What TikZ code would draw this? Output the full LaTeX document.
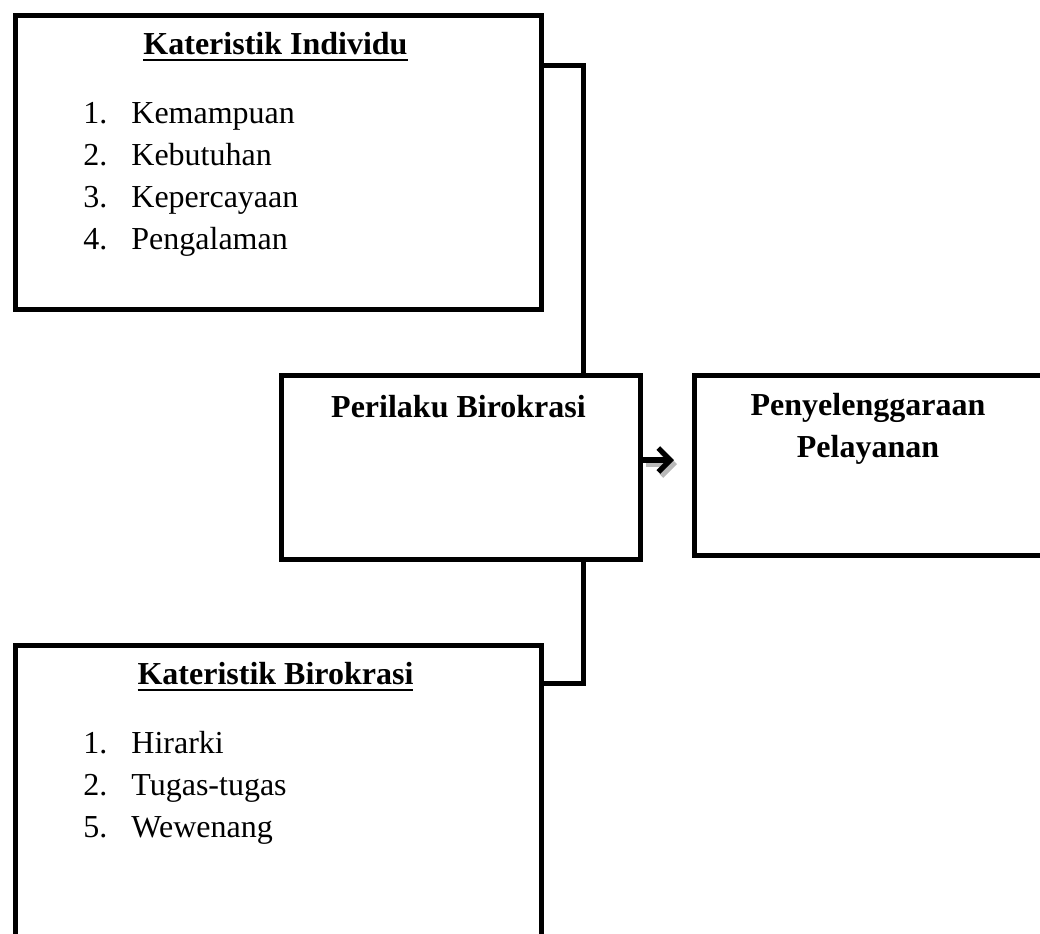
\documentclass[tikz,border=0pt]{standalone}
\usepackage{fontspec}
\setmainfont{Liberation Serif}
\usetikzlibrary{arrows.meta,positioning}
\newlength\gbw
\newcommand\garisbawah[1]{\settowidth\gbw{#1}\rlap{\rule[-3.6pt]{\gbw}{1.2pt}}#1}

\begin{document}
\begin{tikzpicture}[x=0.5pt,y=0.5pt,
  kotak/.style={draw,rectangle,line width=2.5pt,anchor=north west,inner sep=0pt},
  garis/.style={line width=2.5pt},
  panah/.style={line width=2.6pt,-{Straight Barb[length=6pt,width=12pt]}},
  judul/.style={anchor=base,inner sep=0pt,font=\fontsize{16}{21}\selectfont\bfseries},
  isi/.style={anchor=base west,inner sep=0pt,font=\fontsize{16}{21}\selectfont}]
\useasboundingbox (0,0) rectangle (1040,-933);
\clip (0,0) rectangle (1040,-933);

\node (KI) at (12.5,-12.5)[kotak,minimum width=263pt,minimum height=147pt] {};
\node (PB) at (279,-373)[kotak,minimum width=179.5pt,minimum height=91.75pt] {};
\node (PP) at (692,-373)[kotak,minimum width=176pt,minimum height=89.75pt] {};
\node (KB) at (12.5,-642.5)[kotak,minimum width=263pt,minimum height=160pt] {};

\node (KIjudul) at (275.5,-54)[judul] {\garisbawah{Kateristik Individu}};
\foreach \no/\teks [count=\i] in {1./Kemampuan,2./Kebutuhan,3./Kepercayaan,4./Pengalaman}
  \node (KI\i) at (83,{-123.5-42*(\i-1)})[isi] {\makebox[24pt][l]{\no}\teks};

\node (KBjudul) at (275.5,-684)[judul] {\garisbawah{Kateristik Birokrasi}};
\foreach \no/\teks [count=\i] in {1./Hirarki,2./Tugas-tugas,5./Wewenang}
  \node (KB\i) at (83,{-753-42*(\i-1)})[isi] {\makebox[24pt][l]{\no}\teks};

\node (PBjudul) at (458.5,-417)[judul] {Perilaku Birokrasi};
\node (PPjudul) at (868,-415)[judul] {\setlength\tabcolsep{0pt}\begin{tabular}[t]{c}Penyelenggaraan\\Pelayanan\end{tabular}};

\coordinate (S1) at (583,-65.5);
\coordinate (S2) at (583,-683);
\coordinate (ujung) at (674,-460);
\coordinate (pangkal) at (PB.east |- ujung);
\draw [garis] (KI.east |- S1) -- (S1) -- (S1 |- PB.north);
\draw [garis] (S2 |- PB.south) -- (S2) -- (S2 -| KB.east);
\draw [panah,gray!55] ([xshift=1.5pt,yshift=-2pt]pangkal) -- ([xshift=1.5pt,yshift=-2pt]ujung);
\draw [panah] (pangkal) -- (ujung);
\end{tikzpicture}
\end{document}
